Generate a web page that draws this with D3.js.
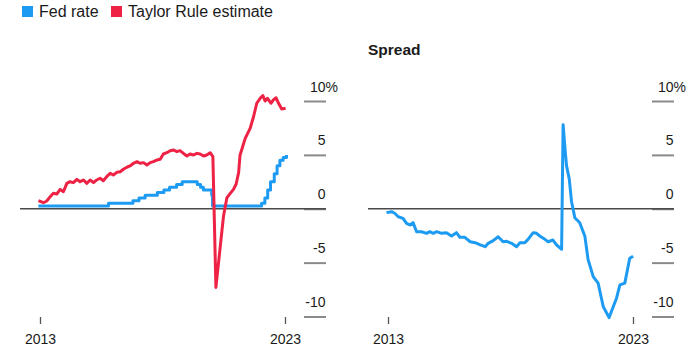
<html>

<head>
    <meta charset="utf-8">
    <title>Fed rate vs Taylor Rule</title>
    <style>
        body { margin: 0; background: #fff; }
        text { font-family: "Liberation Sans", Arial, sans-serif; fill: #1a1a1a; }
    </style>
</head>

<body>
    <script src="https://cdn.jsdelivr.net/npm/d3@7"></script>
    <script>
        var width = 700;
        var height = 350;

        var legendNames = ["Fed rate", "Taylor Rule estimate"];
        var blue = "#1d9bf2";
        var red = "#ee2244";

        // Fed funds target, upper bound (step changes)
        var fedDates = ["2013-02-05", "2015-12-17", "2016-12-15", "2017-03-16", "2017-06-15", "2017-12-14",
            "2018-03-22", "2018-06-14", "2018-09-27", "2018-12-20", "2019-08-01", "2019-09-19", "2019-10-31",
            "2020-03-04", "2020-03-16", "2022-03-17", "2022-05-05", "2022-06-16", "2022-07-28", "2022-09-22",
            "2022-11-03", "2022-12-15", "2023-02-02", "2023-03-23"];
        var fedValues = [0.25, 0.5, 0.75, 1.0, 1.25, 1.5, 1.75, 2.0, 2.25, 2.5, 2.25, 2.0, 1.75,
            1.25, 0.25, 0.5, 1.0, 1.75, 2.5, 3.25, 4.0, 4.5, 4.75, 5.0];

        var taylorDates = ["2013-02-06", "2013-04-20", "2013-06-10", "2013-07-31", "2013-09-16", "2013-11-06", "2013-12-27",
            "2014-02-13", "2014-04-05", "2014-05-22", "2014-07-12", "2014-09-02", "2014-10-19", "2014-12-09",
            "2015-01-29", "2015-03-18", "2015-05-08", "2015-06-24", "2015-08-14", "2015-10-01", "2015-11-21",
            "2016-01-11", "2016-02-27", "2016-04-19", "2016-06-09", "2016-07-26", "2016-09-15", "2016-11-02", "2016-12-23",
            "2017-02-13", "2017-04-01", "2017-05-22", "2017-07-12", "2017-08-29", "2017-10-15", "2017-12-05",
            "2018-01-26", "2018-03-14", "2018-05-04", "2018-06-24", "2018-08-14", "2018-10-01", "2018-11-17",
            "2019-01-07", "2019-02-27", "2019-04-16", "2019-06-06", "2019-07-27", "2019-09-13", "2019-11-03", "2019-12-20",
            "2020-02-09", "2020-03-21", "2020-05-05", "2020-07-09", "2020-08-26", "2020-10-15", "2020-12-02",
            "2021-01-22", "2021-03-03", "2021-04-09", "2021-04-30", "2021-05-26", "2021-07-16", "2021-09-27", "2021-11-17",
            "2022-01-04", "2022-02-24", "2022-04-05", "2022-05-08", "2022-06-13", "2022-08-03", "2022-09-09", "2022-10-19",
            "2022-11-25", "2023-01-11", "2023-03-10"];
        var taylorValues = [0.75, 0.56, 0.72, 1.12, 1.43, 1.37, 1.80,
            1.58, 2.36, 2.51, 2.42, 2.73, 2.51, 2.67,
            2.36, 2.67, 2.42, 2.67, 2.83, 2.60, 2.98,
            3.29, 3.13, 3.38, 3.44, 3.66, 3.85, 3.97, 4.22,
            4.37, 4.22, 4.28, 4.06, 4.28, 4.37, 4.52,
            4.59, 5.08, 5.20, 5.39, 5.45, 5.30, 5.39,
            5.14, 4.90, 5.08, 4.99, 5.14, 5.08, 4.90, 4.99,
            5.20, 4.83, -7.30, -3.50, -0.70, 1.00, 1.40,
            1.80, 2.30, 3.36, 4.99, 5.50, 6.53, 7.46, 8.54,
            9.79, 10.25, 10.50, 10.00, 10.25, 9.79, 10.10, 10.30,
            9.79, 9.26, 9.32];

        var spreadDates = ["2013-02-06", "2013-04-23", "2013-06-10", "2013-07-31", "2013-10-12", "2013-12-02",
            "2014-01-23", "2014-03-10", "2014-05-01", "2014-07-13", "2014-09-27", "2014-11-14",
            "2015-01-04", "2015-02-25", "2015-05-08", "2015-07-20", "2015-10-04", "2015-12-16",
            "2016-02-06", "2016-04-19", "2016-07-08", "2016-09-20", "2016-12-05",
            "2017-02-17", "2017-04-02", "2017-06-17", "2017-08-29", "2017-11-10",
            "2018-01-01", "2018-03-18", "2018-05-30", "2018-07-20", "2018-10-01", "2018-11-17",
            "2019-02-02", "2019-03-25", "2019-05-11", "2019-07-27", "2019-09-13", "2019-11-24",
            "2020-01-15", "2020-04-01", "2020-04-23", "2020-05-22", "2020-06-13", "2020-07-23", "2020-08-26",
            "2020-10-15", "2020-12-27", "2021-03-14", "2021-04-30", "2021-07-16", "2021-09-27", "2021-12-13",
            "2022-03-10", "2022-06-28", "2022-08-18", "2022-10-30", "2023-01-11", "2023-03-03"];
        var spreadValues = [-0.36, -0.27, -0.42, -0.74, -0.89, -1.35,
            -1.51, -1.29, -2.13, -2.13, -2.28, -2.13,
            -2.28, -2.13, -2.28, -2.22, -2.53, -2.22,
            -2.65, -2.65, -3.06, -3.15, -3.36,
            -3.52, -3.21, -2.96, -2.60, -3.06,
            -3.02, -3.21, -3.52, -3.15, -3.15, -2.84,
            -2.22, -2.28, -2.53, -2.84, -3.06, -2.90,
            -3.36, -3.76, 7.80, 5.50, 4.00, 2.80, 0.70,
            -0.84, -1.30, -2.56, -4.70, -6.30, -6.90, -9.10,
            -10.10, -8.30, -7.07, -6.90, -4.60, -4.40];

        var yTicks = [10, 5, 0, -5, -10];
        var xTickDates = ["2013-03-01", "2023-03-01"];
        var xTickLabels = ["2013", "2023"];

        var parse = d3.timeParse("%Y-%m-%d");
        function toPoints(dates, values) {
            return dates.map(function (d, i) { return [parse(d), values[i]]; });
        }

        var svg = d3.select("body")
            .append("svg")
            .attr("width", width)
            .attr("height", height);

        // legend
        var legend = svg.append("g");
        [[22, blue], [111, red]].forEach(function (p, i) {
            legend.append("rect")
                .attr("x", p[0]).attr("y", 6)
                .attr("width", 11).attr("height", 11)
                .attr("fill", p[1]);
            legend.append("text")
                .attr("x", p[0] + 17).attr("y", 16.5)
                .attr("font-size", 16)
                .text(legendNames[i]);
        });

        svg.append("text")
            .attr("x", 368).attr("y", 55)
            .attr("font-size", 15.5)
            .attr("font-weight", "bold")
            .text("Spread");

        var y = d3.scaleLinear().domain([-10, 10]).range([316.5, 101]);

        function panel(left, series) {
            var x = d3.scaleTime()
                .domain([parse(xTickDates[0]), parse(xTickDates[1])])
                .range([left + 40, left + 285]);
            var g = svg.append("g");

            var yAxis = d3.axisRight(y).tickValues(yTicks).tickSize(22)
                .tickFormat(function (d) { return d; });
            g.append("g")
                .attr("transform", "translate(" + (left + 304) + ",0)")
                .call(yAxis)
                .call(function (a) {
                    a.select(".domain").remove();
                    a.selectAll(".tick line").attr("stroke", "#8a8a8a").attr("stroke-width", 2);
                    a.selectAll(".tick text")
                        .attr("x", 21.5).attr("dy", -10)
                        .attr("text-anchor", "end")
                        .attr("font-size", 14)
                        .attr("font-family", null)
                        .attr("fill", null);
                    a.selectAll(".tick").filter(function (d) { return d === 10; })
                        .append("text")
                        .attr("x", 21.5).attr("dy", -10)
                        .attr("font-size", 14)
                        .text("%");
                });

            var xAxis = d3.axisBottom(x).tickValues(xTickDates.map(parse)).tickSize(7)
                .tickFormat(function (d, i) { return xTickLabels[i]; });
            g.append("g")
                .attr("transform", "translate(0,317)")
                .call(xAxis)
                .call(function (a) {
                    a.select(".domain").remove();
                    a.selectAll(".tick line").attr("stroke", "#555").attr("stroke-width", 1.3);
                    a.selectAll(".tick text")
                        .attr("y", 27).attr("dy", 0)
                        .attr("font-size", 14)
                        .attr("font-family", null)
                        .attr("fill", null);
                });

            g.append("line")
                .attr("x1", left + 20).attr("x2", left + 326)
                .attr("y1", y(0)).attr("y2", y(0))
                .attr("stroke", "#4a4a4a").attr("stroke-width", 1.3);

            series.forEach(function (s) {
                var line = d3.line()
                    .x(function (d) { return x(d[0]); })
                    .y(function (d) { return y(d[1]); })
                    .curve(s.curve || d3.curveLinear);
                g.append("path")
                    .datum(s.data)
                    .attr("fill", "none")
                    .attr("stroke", s.color)
                    .attr("stroke-width", 3)
                    .attr("stroke-linejoin", "round")
                    .attr("d", line);
            });
        }

        panel(0, [
            { data: toPoints(fedDates, fedValues), color: blue, curve: d3.curveStepAfter },
            { data: toPoints(taylorDates, taylorValues), color: red }
        ]);
        panel(348, [
            { data: toPoints(spreadDates, spreadValues), color: blue }
        ]);
    </script>
</body>

</html>
